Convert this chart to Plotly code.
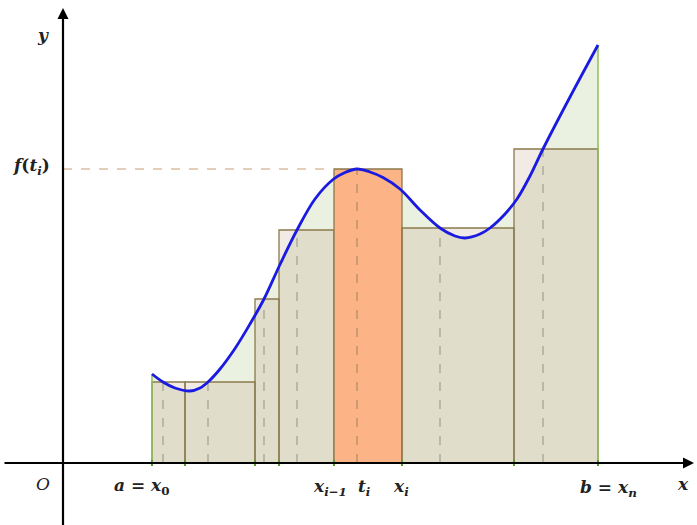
import plotly.graph_objects as go

# -----------------------------------------------------------------------------
# Data (units)
# -----------------------------------------------------------------------------

partition = [1.78, 2.44, 3.84, 4.32, 5.42, 6.78, 9.02, 10.70]
samples = [2.00, 2.90, 4.02, 4.68, 5.88, 7.54, 9.60]
heights = [1.62, 1.62, 3.28, 4.66, 5.88, 4.70, 6.28]
highlight = 4  # the [x_{i-1}, x_i] strip

curve_x = [1.78, 2.00, 2.24, 2.54, 2.74, 2.90, 3.14, 3.44, 3.74, 4.02, 4.34,
           4.68, 5.04, 5.40, 5.64, 5.88, 6.14, 6.40, 6.74, 7.14, 7.54, 7.84,
           8.04, 8.34, 8.54, 8.84, 9.08, 9.34, 9.60, 10.14, 10.70]
curve_y = [1.78, 1.62, 1.50, 1.44, 1.50, 1.62, 1.88, 2.29, 2.78, 3.28, 3.97,
           4.66, 5.28, 5.67, 5.81, 5.88, 5.82, 5.71, 5.48, 5.06, 4.70, 4.54,
           4.50, 4.58, 4.70, 4.98, 5.28, 5.74, 6.28, 7.32, 8.36]

X_RANGE = [-1.26, 12.68]
Y_RANGE = [-1.24, 9.26]

RECT_FILL = "rgba(153,102,51,0.13)"
RECT_LINE = "#8a7a4c"
HIGHLIGHT_FILL = "#fcb386"
AREA_FILL = "rgba(153,187,102,0.2)"
GREEN = "#8cbf5a"

fig = go.Figure()

# area under the curve
fig.add_trace(go.Scatter(
    x=curve_x, y=curve_y, mode="lines", line=dict(width=0, shape="spline"),
    fill="tozeroy", fillcolor=AREA_FILL, hoverinfo="skip"
))

# rectangles of the Riemann sum
for i, h in enumerate(heights):
    x0, x1 = partition[i], partition[i + 1]
    fig.add_trace(go.Scatter(
        x=[x0, x0, x1, x1, x0], y=[0, h, h, 0, 0], mode="lines",
        line=dict(color=RECT_LINE, width=1.3),
        fill="toself",
        fillcolor=HIGHLIGHT_FILL if i == highlight else RECT_FILL,
        hoverinfo="skip"
    ))

# dashed verticals at the sample points
for i, (t, h) in enumerate(zip(samples, heights)):
    fig.add_trace(go.Scatter(
        x=[t, t], y=[0, h], mode="lines",
        line=dict(color="#b08a60" if i == highlight else "#a0a090", width=1.2, dash="dash"),
        hoverinfo="skip"
    ))

# dashed guide for f(t_i)
fig.add_trace(go.Scatter(
    x=[0, partition[highlight]], y=[heights[highlight]] * 2, mode="lines",
    line=dict(color="#dcbfa0", width=1.3, dash="dash"), hoverinfo="skip"
))

# green edges at a and b
fig.add_trace(go.Scatter(
    x=[partition[0], partition[0]], y=[0, curve_y[0]], mode="lines",
    line=dict(color=GREEN, width=1.5), hoverinfo="skip"
))
fig.add_trace(go.Scatter(
    x=[partition[-1], partition[-1]], y=[0, curve_y[-1]], mode="lines",
    line=dict(color=GREEN, width=1.5), hoverinfo="skip"
))

# the curve
fig.add_trace(go.Scatter(
    x=curve_x, y=curve_y, mode="lines",
    line=dict(color="#1a1ae0", width=2.8, shape="spline"), hoverinfo="skip"
))

# axes with arrows
fig.add_annotation(x=12.62, y=0, ax=-1.2, ay=0, xref="x", yref="y", axref="x", ayref="y",
                   showarrow=True, arrowhead=2, arrowsize=1, arrowwidth=2.2,
                   arrowcolor="black", text="")
fig.add_annotation(x=0, y=9.1, ax=0, ay=-1.3, xref="x", yref="y", axref="x", ayref="y",
                   showarrow=True, arrowhead=2, arrowsize=1, arrowwidth=2.2,
                   arrowcolor="black", text="")

# base line and partition ticks in green
fig.add_trace(go.Scatter(
    x=[partition[0], partition[-1]], y=[0, 0], mode="lines",
    line=dict(color="#6a9a40", width=1.5), hoverinfo="skip"
))
for p in partition:
    fig.add_trace(go.Scatter(
        x=[p, p], y=[-0.06, 0.06], mode="lines",
        line=dict(color="#5a9a30", width=2), hoverinfo="skip"
    ))

# labels
labels = [
    (-0.40, 8.56, "<b><i>y</i></b>"),
    (-0.64, 5.94, "<b><i>f</i>(<i>t<sub>i</sub></i>)</b>"),
    (-0.40, -0.42, "<i>O</i>"),
    (1.58, -0.46, "<b><i>a</i> = <i>x</i><sub>0</sub></b>"),
    (5.34, -0.48, "<b><i>x<sub>i−1</sub></i></b>"),
    (6.02, -0.48, "<b><i>t<sub>i</sub></i></b>"),
    (6.76, -0.48, "<b><i>x<sub>i</sub></i></b>"),
    (10.90, -0.50, "<b><i>b</i> = <i>x<sub>n</sub></i></b>"),
    (12.40, -0.42, "<b><i>x</i></b>"),
]
for lx, ly, txt in labels:
    fig.add_annotation(x=lx, y=ly, text=txt, showarrow=False,
                       font=dict(family="DejaVu Serif", size=17, color="#222"))

fig.update_layout(
    width=697, height=525,
    margin=dict(l=0, r=0, t=0, b=0),
    paper_bgcolor="white", plot_bgcolor="white",
    showlegend=False,
    xaxis=dict(range=X_RANGE, visible=False, fixedrange=True),
    yaxis=dict(range=Y_RANGE, visible=False, fixedrange=True),
)

fig.write_html("out.html", config={"displayModeBar": False},
               post_script="document.body.style.margin='0';")
